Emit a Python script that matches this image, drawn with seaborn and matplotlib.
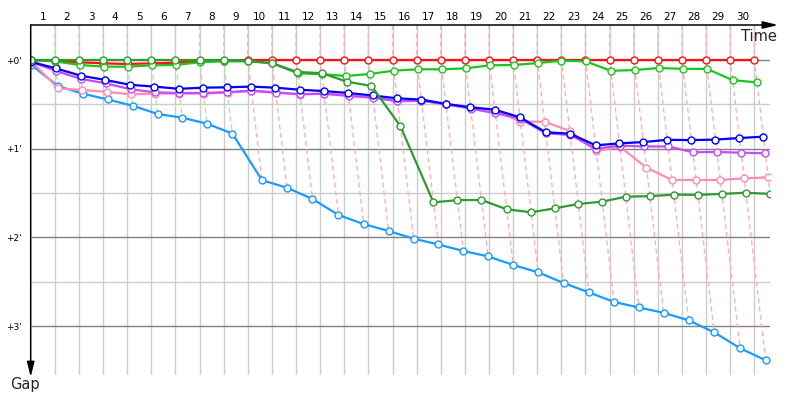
import matplotlib
matplotlib.use("Agg")
import numpy as np
import pandas as pd
import matplotlib.pyplot as plt
import seaborn as sns


laps = list(range(0, 31))
lap_labels = [str(k) for k in range(1, 31)]
gap_ticks = [0, 1, 2, 3]
gap_labels = ["+0'", "+1'", "+2'", "+3'"]

# gap to the leader (minutes) at each lap crossing
red = [0, 0.011, 0.026, 0.038, 0.045, 0.038, 0.03, 0.011, 0.008, 0, 0,
       0, 0, 0, 0, 0, 0, 0, 0, 0, 0,
       0, 0, 0, 0, 0, 0, 0, 0, 0, 0]
lime = [0, 0.015, 0.056, 0.075, 0.075, 0.06, 0.056, 0.025, 0.015, 0.015, 0.035,
        0.15, 0.16, 0.18, 0.158, 0.12, 0.105, 0.105, 0.094, 0.06, 0.056,
        0.035, 0.008, 0.015, 0.122, 0.113, 0.09, 0.1, 0.1, 0.227, 0.252]
dark_green = [0, 0, 0, 0, 0, 0, 0, 0, 0, 0.008, 0.038,
              0.135, 0.148, 0.244, 0.293, 0.744, 1.605, 1.58, 1.578, 1.683, 1.717,
              1.672, 1.623, 1.597, 1.541, 1.535, 1.518, 1.52, 1.51, 1.496, 1.51]
blue = [0.02, 0.094, 0.177, 0.225, 0.28, 0.30, 0.325, 0.312, 0.308, 0.30, 0.312,
        0.335, 0.35, 0.372, 0.40, 0.432, 0.446, 0.495, 0.533, 0.56, 0.646,
        0.815, 0.83, 0.962, 0.94, 0.925, 0.90, 0.903, 0.897, 0.88, 0.864]
purple = [0.02, 0.124, 0.214, 0.263, 0.33, 0.365, 0.372, 0.372, 0.362, 0.346, 0.37,
          0.385, 0.38, 0.405, 0.425, 0.465, 0.46, 0.50, 0.548, 0.60, 0.66,
          0.827, 0.845, 1.0, 0.965, 0.975, 0.975, 1.04, 1.037, 1.045, 1.052]
pink = [0.01, 0.32, 0.338, 0.36, 0.387, 0.38, 0.378, 0.378, 0.368, 0.35, 0.36,
        0.39, 0.378, 0.40, 0.42, 0.462, 0.455, 0.498, 0.54, 0.564, 0.695,
        0.695, 0.80, 1.03, 0.977, 1.214, 1.353, 1.353, 1.353, 1.334, 1.323]
light_blue = [0.056, 0.293, 0.38, 0.445, 0.515, 0.609, 0.65, 0.718, 0.83, 1.355, 1.44,
              1.567, 1.747, 1.85, 1.928, 2.014, 2.08, 2.153, 2.214, 2.311, 2.394,
              2.514, 2.62, 2.728, 2.79, 2.85, 2.935, 3.07, 3.25, 3.386]

# minutes of gap -> laps of time shift on the x axis
SHIFT = 0.435

series = {
    "light_blue": (light_blue, "#1a9bff"),
    "pink": (pink, "#ff8cb8"),
    "purple": (purple, "#c44cf5"),
    "blue": (blue, "#0000ff"),
    "red": (red, "#ff1010"),
    "lime": (lime, "#1ec41e"),
    "dark_green": (dark_green, "#2f9a2f"),
}

rows = []
for name, (gaps, _) in series.items():
    for lap, g in zip(laps, gaps):
        rows.append((name, lap, g, lap + SHIFT * g))
df = pd.DataFrame(rows, columns=["driver", "lap", "gap", "time"])


sns.set_theme(style="white")
plt.rcParams['font.family'] = ['DejaVu Sans']

fig = plt.figure(figsize=(8, 4), dpi=100)
ax = fig.add_axes([30.7 / 800, 25 / 400, (770 - 30.7) / 800, 350 / 400])
xmax = (770 - 30.7) / 24.12
ytop, ybot = -35 / 88.7, 315 / 88.7

# grid
ax.vlines(laps[1:], 0, 1, transform=ax.get_xaxis_transform(), color="#cccccc", lw=1, zorder=0)
ax.hlines([0.5, 1.5, 2.5], 0, xmax, color="#cccccc", lw=1, zorder=0)
ax.hlines(gap_ticks, 0, xmax, color="#808080", lw=1, zorder=0)

# dashed lap lines through every car at the same lap
for lap in laps[1:]:
    cur = df[df.lap == lap].sort_values("gap")
    xs = [lap] + list(cur.time)
    ys = [ytop] + list(cur.gap)
    col = "#b6dfb6" if lap <= 8 else "#ffb0b0"
    ax.plot(xs, ys, ls=(0, (3.5, 2.5)), lw=1.0, color=col, zorder=1)

for name, (gaps, col) in series.items():
    d = df[df.driver == name]
    sns.lineplot(data=d, x="time", y="gap", sort=False, estimator=None, color=col,
                 linewidth=1.6, marker="o", markersize=5, markerfacecolor="white",
                 markeredgecolor=col, markeredgewidth=1.0, ax=ax, zorder=3, legend=False)

ax.set_xlim(0, xmax)
ax.set_ylim(ybot, ytop)
ax.set_xlabel("")
ax.set_ylabel("")

ax.set_xticks([k - 0.5 for k in range(1, 31)])
ax.set_xticklabels(lap_labels)
ax.xaxis.tick_top()
ax.tick_params(axis="x", length=0, pad=2.5, labelsize=7.5, colors="black")
ax.set_yticks(gap_ticks)
ax.set_yticklabels(gap_labels)
ax.tick_params(axis="y", length=0, pad=6.5, labelsize=6.5, colors="black")

for s in ax.spines.values():
    s.set_visible(False)

arrow = dict(arrowstyle="-|>,head_length=0.6,head_width=0.15", color="black",
             lw=1.1, shrinkA=0, shrinkB=0, mutation_scale=15)
ax.annotate("", xy=(1.0108, 1), xytext=(0, 1), xycoords="axes fraction",
            arrowprops=arrow, annotation_clip=False)
ax.annotate("", xy=(0, -0.0057), xytext=(0, 1), xycoords="axes fraction",
            arrowprops=arrow, annotation_clip=False)

ax.text(1.0095, 0.955, "Time", transform=ax.transAxes, ha="right", va="baseline",
        fontsize=10.5, clip_on=False)
ax.text(-0.0077, -0.04, "Gap", transform=ax.transAxes, ha="center", va="baseline",
        fontsize=10.5, clip_on=False)

fig.savefig("out.png", dpi=100)
